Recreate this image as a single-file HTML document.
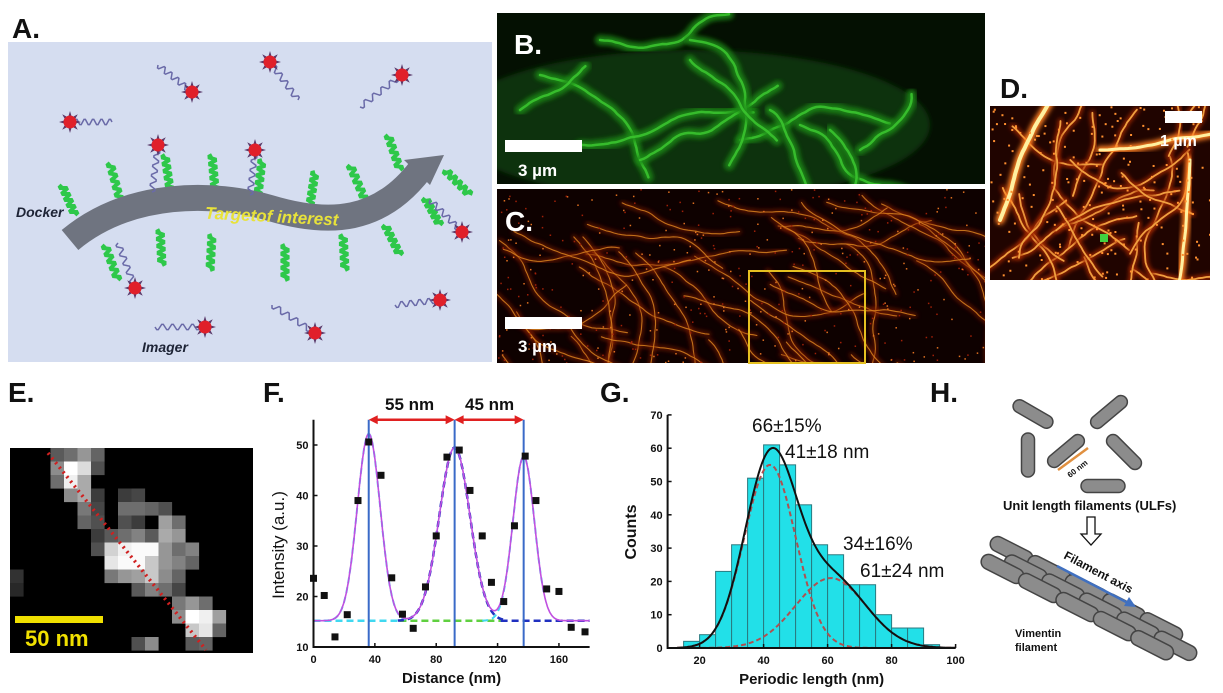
<!DOCTYPE html>
<html><head><meta charset="utf-8"><style>
html,body{margin:0;padding:0;background:#fff;}
svg{display:block;font-family:"Liberation Sans",Arial,sans-serif;}
</style></head><body>
<svg id="s" width="1223" height="693" viewBox="0 0 1223 693" xmlns="http://www.w3.org/2000/svg">
<defs>
<filter id="blur2"><feGaussianBlur stdDeviation="2.5"/></filter>
<filter id="blur1"><feGaussianBlur stdDeviation="0.8"/></filter>
<clipPath id="cB"><rect x="497" y="13" width="488" height="171"/></clipPath>
<clipPath id="cC"><rect x="497" y="189" width="488" height="174"/></clipPath>
<clipPath id="cD"><rect x="990" y="106" width="220" height="174"/></clipPath>
</defs>
<rect width="1223" height="693" fill="#fff"/>
<!-- Panel A -->
<rect x="8" y="42" width="484" height="320" fill="#d5ddf0"/>
<g id="Agreen"></g>
<path d="M70,240 C130,190 215,192 270,208 C330,226 380,222 420,170" stroke="#6f7480" stroke-width="26" fill="none"/>
<polygon points="404,160 444,155 430,185" fill="#6f7480"/>
<g id="Aimg"></g>
<text x="205" y="222" font-size="17" font-weight="bold" font-style="italic" fill="#e8e23a" transform="rotate(3 270 215)">Targetof interest</text>
<text x="16" y="217" font-size="14" font-weight="bold" font-style="italic" fill="#1e2436">Docker</text>
<text x="142" y="352" font-size="14" font-weight="bold" font-style="italic" fill="#1e2436">Imager</text>
<text x="12" y="38" font-size="28" font-weight="bold" fill="#111">A.</text>

<!-- Panel B -->
<rect x="497" y="13" width="488" height="171" fill="#041002"/>
<g clip-path="url(#cB)" id="Bg"></g>
<rect x="505" y="140" width="77" height="12" fill="#fff"/>
<text x="518" y="176" font-size="17" font-weight="bold" fill="#fff">3 µm</text>
<text x="514" y="54" font-size="28" font-weight="bold" fill="#fff">B.</text>

<!-- Panel C -->
<rect x="497" y="189" width="488" height="174" fill="#0e0100"/>
<g clip-path="url(#cC)" id="Cg"></g>
<rect x="749" y="271" width="116" height="92" fill="none" stroke="#e5c020" stroke-width="2"/>
<rect x="505" y="317" width="77" height="12" fill="#fff"/>
<text x="518" y="352" font-size="17" font-weight="bold" fill="#fff">3 µm</text>
<text x="505" y="231" font-size="28" font-weight="bold" fill="#fff">C.</text>

<!-- Panel D -->
<rect x="990" y="106" width="220" height="174" fill="#200400"/>
<g clip-path="url(#cD)" id="Dg"></g>
<rect x="1165" y="111" width="37" height="12" fill="#fff"/>
<text x="1160" y="146" font-size="16" font-weight="bold" fill="#fff">1 µm</text>
<rect x="1100" y="234" width="8" height="8" fill="#40d040"/>
<text x="1000" y="98" font-size="28" font-weight="bold" fill="#111">D.</text>

<!-- Panel E -->
<text x="8" y="402" font-size="28" font-weight="bold" fill="#111">E.</text>
<rect x="10" y="448" width="243" height="205" fill="#000"/>
<g id="Eg"></g>
<line x1="48" y1="453" x2="206" y2="650" stroke="#d02020" stroke-width="3.5" stroke-dasharray="2 4"/>
<rect x="15" y="616" width="88" height="7" fill="#f0e000"/>
<text x="25" y="646" font-size="22" font-weight="bold" fill="#f0e000">50 nm</text>

<!-- Panel F -->
<text x="263" y="402" font-size="28" font-weight="bold" fill="#111">F.</text>
<g id="Fg"></g>

<!-- Panel G -->
<text x="600" y="402" font-size="28" font-weight="bold" fill="#111">G.</text>
<g id="Gg"></g>

<!-- Panel H -->
<text x="930" y="402" font-size="28" font-weight="bold" fill="#111">H.</text>
<g id="Hg" fill="#8c8c8c" stroke="#444" stroke-width="1.5"></g>
<text x="1003" y="510" font-size="13" font-weight="bold" fill="#111">Unit length filaments (ULFs)</text>
<path d="M1087,517 h8 v17 h6 l-10,11 l-10,-11 h6 z" fill="#fff" stroke="#111" stroke-width="1.3"/>
<text x="1015" y="637" font-size="11" font-weight="bold" fill="#111">Vimentin</text>
<text x="1015" y="651" font-size="11" font-weight="bold" fill="#111">filament</text>
</svg>
<script>
const NS="http://www.w3.org/2000/svg";
function el(p,t,a,txt){const e=document.createElementNS(NS,t);for(const k in a)e.setAttribute(k,a[k]);if(txt!==undefined)e.textContent=txt;p.appendChild(e);return e;}
let seed=7;function rnd(){seed=(seed*16807)%2147483647;return seed/2147483647;}
const S=document.getElementById('s');
// Panel A
const Ag=document.getElementById('Agreen'),Ai=document.getElementById('Aimg');
function helix(g,x1,y1,x2,y2,col,w,amp,n){let dx=x2-x1,dy=y2-y1,L=Math.hypot(dx,dy),nx=-dy/L,ny=dx/L,d='';for(let i=0;i<=n*6;i++){let t=i/(n*6),s=Math.sin(t*n*2*Math.PI)*amp;d+=(i?'L':'M')+(x1+dx*t+nx*s).toFixed(1)+','+(y1+dy*t+ny*s).toFixed(1);}el(g,'path',{d:d,stroke:col,'stroke-width':w,fill:'none'});}
function star(g,x,y){let d='';for(let i=0;i<16;i++){let r=i%2?5:11,a=i*Math.PI/8;d+=(i?'L':'M')+(x+r*Math.cos(a)).toFixed(1)+','+(y+r*Math.sin(a)).toFixed(1);}el(g,'path',{d:d+'Z',fill:'#5a3a6a'});el(g,'circle',{cx:x,cy:y,r:6.5,fill:'#e0202a'});}
const greens=[[62,185,75,215],[110,163,120,200],[165,155,170,190],[212,155,215,190],[262,160,258,195],[315,172,310,205],[350,165,365,200],[388,135,400,170],[445,170,470,195],[425,198,440,225],[105,245,118,280],[160,230,162,265],[212,235,210,270],[285,245,285,280],[343,235,345,270],[385,225,400,255]];
greens.forEach(g=>helix(Ag,g[0],g[1],g[2],g[3],'#2ec84a',4,3,5));
const imgs=[[158,65,192,92,192,92],[270,62,298,100,270,62],[360,107,402,75,402,75],[112,122,70,122,70,122],[158,145,152,192,158,145],[255,150,250,195,255,150],[118,243,135,288,135,288],[155,327,205,327,205,327],[272,305,315,333,315,333],[395,305,440,300,440,300],[430,200,462,232,462,232]];
imgs.forEach(m=>{helix(Ai,m[0],m[1],m[2],m[3],'#6a6aa8',1.5,3,5);star(Ai,m[4],m[5]);});
// microscopy filaments
function fil(g,x,y,ang,len,cols,ws,step,wob,op){let d='M'+x.toFixed(1)+','+y.toFixed(1);for(let i=0;i<len;i++){ang+=(rnd()-0.5)*wob;x+=Math.cos(ang)*step;y+=Math.sin(ang)*step;d+='L'+x.toFixed(1)+','+y.toFixed(1);}cols.forEach((c,i)=>el(g,'path',{d:d,stroke:c,'stroke-width':ws[i],fill:'none','stroke-linecap':'round',opacity:op||1,filter:i==0?'url(#blur2)':''}));}
const B=document.getElementById('Bg');
el(B,'ellipse',{cx:690,cy:125,rx:240,ry:75,fill:'#0b3008',filter:'url(#blur2)'});
const bf=[[540,75,0.4,40],[580,145,-0.1,45],[640,160,-0.3,40],[740,140,-0.4,40],[770,110,0.6,30],[800,125,0.5,35],[600,40,0.3,35],[690,40,0.2,40],[520,110,-0.5,20],[690,60,0.8,30],[830,130,0.9,20],[860,150,-0.8,20]];
bf.forEach(f=>fil(B,f[0],f[1],f[2],f[3],['#1c8a18','#3cc830'],[10,2.5],4,0.4,0.85));
const C=document.getElementById('Cg');
for(let i=0;i<45;i++){fil(C,497+rnd()*430,189+rnd()*174,rnd()*0.9+0.1,25+rnd()*30,['#801e00','#e08a20'],[4,1.1],4,0.35,0.8);}
for(let i=0;i<400;i++)el(C,'rect',{x:497+rnd()*488,y:189+rnd()*174,width:1.5,height:1.5,fill:rnd()>0.5?'#e07020':'#a02008'});
const D=document.getElementById('Dg');
for(let i=0;i<25;i++){fil(D,990+rnd()*220,106+rnd()*174,rnd()*6.28,20+rnd()*20,['#a02800','#f0a040'],[5,1.8],4,0.4);}
fil(D,1000,220,-1.2,40,['#ff8020','#fff0a0'],[9,4],4,0.12);
fil(D,1100,150,0.05,30,['#ff8020','#fff0a0'],[8,3],4,0.2);
fil(D,1190,160,1.6,30,['#ff8020','#fff0a0'],[8,3],4,0.1);
for(let i=0;i<200;i++)el(D,'rect',{x:990+rnd()*220,y:106+rnd()*174,width:2,height:2,fill:'#ff9030'});
// Panel E
const E=document.getElementById('Eg');const px=[[3,0,90],[4,0,110],[5,0,150],[6,0,100],[3,1,140],[4,1,255],[5,1,220],[6,1,80],[3,2,110],[4,2,240],[5,2,170],[4,3,140],[5,3,170],[6,3,60],[5,4,120],[6,4,70],[8,3,60],[9,3,70],[8,4,110],[9,4,110],[10,4,100],[11,4,80],[5,5,100],[6,5,80],[8,5,80],[9,5,60],[11,5,160],[12,5,110],[6,6,60],[7,6,90],[8,6,110],[9,6,130],[10,6,90],[11,6,170],[12,6,150],[6,7,80],[7,7,210],[8,7,240],[9,7,250],[10,7,250],[11,7,150],[12,7,110],[13,7,130],[7,8,230],[8,8,250],[9,8,250],[10,8,200],[11,8,150],[12,8,130],[13,8,100],[7,9,120],[8,9,150],[9,9,160],[10,9,200],[11,9,140],[12,9,100],[9,10,90],[10,10,130],[11,10,110],[12,10,70],[12,11,120],[13,11,150],[14,11,110],[12,12,140],[13,12,255],[14,12,240],[15,12,160],[13,13,200],[14,13,230],[15,13,100],[0,9,50],[0,10,40],[9,14,80],[10,14,140],[13,14,90],[14,14,100]];
px.forEach(p=>el(E,'rect',{x:10+p[0]*13.5,y:448+p[1]*13.5,width:13.6,height:13.6,fill:`rgb(${p[2]},${p[2]},${p[2]})`}));
// Panel F
const F=document.getElementById('Fg');
const fx=v=>313.5+v*1.534,fy=v=>647-(v-10)*5.05;
function g(x,c,a,s){return a*Math.exp(-((x-c)**2)/(2*s*s));}
function pth(f,x0,x1,attrs){let d='';for(let x=x0;x<=x1;x+=0.5)d+=(d?'L':'M')+fx(x).toFixed(1)+','+fy(f(x)).toFixed(1);el(F,'path',Object.assign({d:d,fill:'none'},attrs));}
pth(x=>15.2,0,56,{stroke:'#40d8f0','stroke-width':2.5,'stroke-dasharray':'7 4'});
pth(x=>15.2,56,122,{stroke:'#60d040','stroke-width':2.5,'stroke-dasharray':'7 4'});
pth(x=>15.2,122,180,{stroke:'#2030c0','stroke-width':2.5,'stroke-dasharray':'7 4'});
pth(x=>15.2+g(x,36,37,7.5),0,60,{stroke:'#40d8f0','stroke-width':2,'stroke-dasharray':'6 4'});
pth(x=>15.2+g(x,92,34.3,10),55,125,{stroke:'#2030c0','stroke-width':2.5,'stroke-dasharray':'6 4'});
pth(x=>15.2+g(x,137,32.5,7),110,150,{stroke:'#40d8f0','stroke-width':2,'stroke-dasharray':'6 4'});
pth(x=>15.2+g(x,36,37,7.5)+g(x,92,34.3,10)+g(x,137,32.5,7),0,180,{stroke:'#c050e0','stroke-width':1.6});
[36,92,137].forEach(c=>el(F,'line',{x1:fx(c),y1:fy(10),x2:fx(c),y2:fy(55),stroke:'#3a6ac8','stroke-width':2}));
function arrow(a,b){el(F,'line',{x1:fx(a)+6,y1:fy(55),x2:fx(b)-6,y2:fy(55),stroke:'#e02020','stroke-width':2.5});el(F,'polygon',{points:`${fx(a)},${fy(55)} ${fx(a)+9},${fy(55)-4.5} ${fx(a)+9},${fy(55)+4.5}`,fill:'#e02020'});el(F,'polygon',{points:`${fx(b)},${fy(55)} ${fx(b)-9},${fy(55)-4.5} ${fx(b)-9},${fy(55)+4.5}`,fill:'#e02020'});}
arrow(36,92);arrow(92,137);
el(F,'text',{x:385,y:410,'font-size':17,'font-weight':'bold',fill:'#111'},'55 nm');
el(F,'text',{x:465,y:410,'font-size':17,'font-weight':'bold',fill:'#111'},'45 nm');
const fdat=[[0,23.6],[7,20.2],[14,12],[22,16.4],[29,39],[36,50.6],[44,44],[51,23.7],[58,16.5],[65,13.7],[73,21.9],[80,32],[87,47.6],[95,49],[102,41],[110,32],[116,22.8],[124,19],[131,34],[138,47.8],[145,39],[152,21.5],[160,21],[168,13.9],[177,13]];
fdat.forEach(p=>el(F,'rect',{x:fx(p[0])-3.5,y:fy(p[1])-3.5,width:7,height:7,fill:'#111'}));
el(F,'path',{d:`M${fx(0)},${fy(55)}V${fy(10)}H${fx(180)}`,stroke:'#111','stroke-width':2,fill:'none'});
[10,20,30,40,50].forEach(v=>{el(F,'line',{x1:fx(0),x2:fx(0)+4,y1:fy(v),y2:fy(v),stroke:'#111','stroke-width':1.5});el(F,'text',{x:fx(0)-5,y:fy(v)+4,'font-size':11,'font-weight':'bold','text-anchor':'end',fill:'#111'},v);});
[0,40,80,120,160].forEach(v=>{el(F,'line',{x1:fx(v),x2:fx(v),y1:fy(10),y2:fy(10)-4,stroke:'#111','stroke-width':1.5});el(F,'text',{x:fx(v),y:663,'font-size':11,'font-weight':'bold','text-anchor':'middle',fill:'#111'},v);});
el(F,'text',{x:fx(90),y:683,'font-size':15,'font-weight':'bold','text-anchor':'middle',fill:'#111'},'Distance (nm)');
el(F,'text',{x:0,y:0,'font-size':17,'text-anchor':'middle',fill:'#111',transform:`translate(284,545) rotate(-90)`},'Intensity (a.u.)');
// Panel G
const G=document.getElementById('Gg');
const gx=v=>667.6+(v-10)*3.2,gy=v=>648-v*3.33;
const bars=[[15,2],[20,4],[25,23],[30,31],[35,51],[40,61],[45,55],[50,43],[55,31],[60,28],[65,19],[70,19],[75,10],[80,6],[85,6],[90,1]];
bars.forEach(b=>el(G,'rect',{x:gx(b[0]),y:gy(b[1]),width:16,height:gy(0)-gy(b[1]),fill:'#22e0e8',stroke:'#2a7a80','stroke-width':1}));
function gp(f,attrs){let d='';for(let x=13;x<=100;x+=0.5)d+=(d?'L':'M')+gx(x).toFixed(1)+','+gy(f(x)).toFixed(1);el(G,'path',Object.assign({d:d,fill:'none'},attrs));}
gp(x=>g(x,42,55,8),{stroke:'#b05050','stroke-width':2,'stroke-dasharray':'5 3'});
gp(x=>g(x,61,21,11),{stroke:'#b05050','stroke-width':2,'stroke-dasharray':'5 3'});
gp(x=>g(x,42,55,8)+g(x,61,21,11),{stroke:'#111','stroke-width':2});
el(G,'path',{d:`M${gx(10)},${gy(70)}V${gy(0)}H${gx(100)}`,stroke:'#111','stroke-width':2,fill:'none'});
[0,10,20,30,40,50,60,70].forEach(v=>{el(G,'line',{x1:gx(10),x2:gx(10)+4,y1:gy(v),y2:gy(v),stroke:'#111','stroke-width':1.5});el(G,'text',{x:gx(10)-5,y:gy(v)+4,'font-size':11,'font-weight':'bold','text-anchor':'end',fill:'#111'},v);});
[20,40,60,80,100].forEach(v=>{el(G,'line',{x1:gx(v),x2:gx(v),y1:gy(0),y2:gy(0)-4,stroke:'#111','stroke-width':1.5});el(G,'text',{x:gx(v),y:664,'font-size':11,'font-weight':'bold','text-anchor':'middle',fill:'#111'},v);});
el(G,'text',{x:gx(55),y:684,'font-size':15,'font-weight':'bold','text-anchor':'middle',fill:'#111'},'Periodic length (nm)');
el(G,'text',{x:0,y:0,'font-size':16,'font-weight':'bold','text-anchor':'middle',fill:'#111',transform:`translate(636,532) rotate(-90)`},'Counts');
[['66±15%',752,432],['41±18 nm',785,458],['34±16%',843,550],['61±24 nm',860,577]].forEach(t=>el(G,'text',{x:t[1],y:t[2],'font-size':19,fill:'#111'},t[0]));
// Panel H
const H=document.getElementById('Hg');
function cap(x,y,a,L,w){el(H,'rect',{x:-L/2,y:-w/2,width:L,height:w,rx:w/2,transform:`translate(${x},${y}) rotate(${a})`});}
cap(1033,414,30,44,13);cap(1109,412,-40,44,13);cap(1028,455,90,44,13);cap(1066,451,-40,44,13);cap(1124,452,45,44,13);cap(1103,486,0,44,13);
el(S,'line',{x1:1058,y1:470,x2:1088,y2:448,stroke:'#e09040','stroke-width':2.5});
el(S,'text',{x:0,y:0,'font-size':8,'font-weight':'bold',fill:'#111',transform:'translate(1070,478) rotate(-38)'},'60 nm');
// filament: three rows of capsules along axis
const ang=27,ca=Math.cos(ang*Math.PI/180),sa=Math.sin(ang*Math.PI/180);
for(let r=0;r<3;r++){const off=(r-1)*10;for(let i=0;i<5;i++){const t=i*42+(r%2)*21;cap(985+t*ca-off*sa+22,560+t*sa+off*ca,ang,46,15);}}
el(S,'line',{x1:1057,y1:566,x2:1130,y2:604,stroke:'#4070c0','stroke-width':2.5});
el(S,'polygon',{points:'1136,607 1124,606 1129,597',fill:'#4070c0'});
el(S,'text',{x:0,y:0,'font-size':12,'font-weight':'bold',fill:'#111',transform:'translate(1063,558) rotate(28)'},'Filament axis');
</script>
</body></html>
